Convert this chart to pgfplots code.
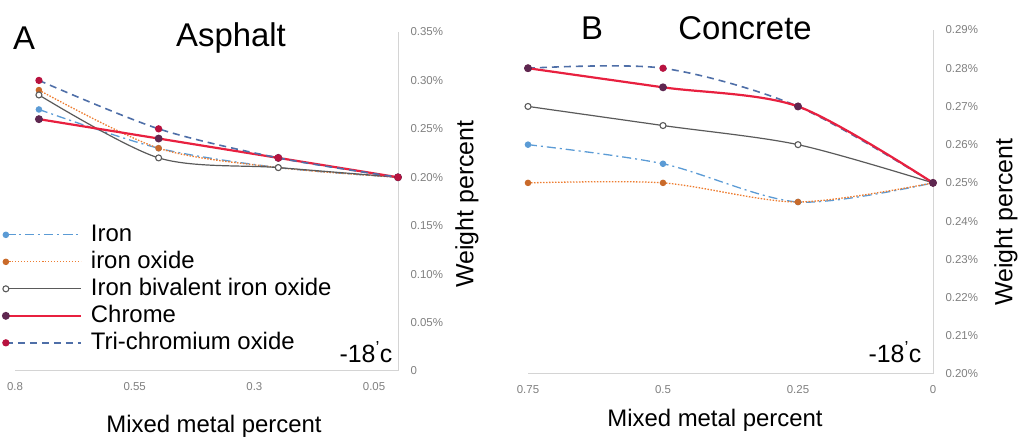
\documentclass[border=0pt]{standalone}
\usepackage{pgfplots}
\pgfplotsset{compat=1.18}
\usepackage{fontspec}
\setmainfont{Liberation Sans}

\definecolor{ironblue}{HTML}{5B9BD5}
\definecolor{oxorange}{HTML}{ED7D31}
\definecolor{bivgray}{HTML}{5A5A5A}
\definecolor{chromered}{HTML}{E8203F}
\definecolor{chromemark}{HTML}{5E2750}
\definecolor{tridash}{HTML}{4F6FA8}
\definecolor{trimark}{HTML}{B8123F}
\definecolor{axgray}{HTML}{D4D4D4}
\definecolor{tickgray}{HTML}{7F7F7F}

\pgfplotsset{
  panel/.style={
    scale only axis, clip=false,
    axis x line=bottom, axis y line=right,
    axis line style={axgray, line width=1bp, -},
    x dir=reverse, major tick length=0pt,
    tick label style={font=\fontsize{11.5}{13}\selectfont, text=tickgray},
    yticklabel style={xshift=9bp},
    xticklabel style={yshift=-8bp},
  },
  s iron/.style={ironblue, line width=1.3bp, dash pattern=on 9bp off 4bp on 2bp off 4bp, smooth,
    mark=*, mark size=2.6bp, mark options={solid, fill=ironblue, draw=ironblue}},
  s oxide/.style={oxorange, line width=1.3bp, dash pattern=on 1.5bp off 1.5bp, smooth,
    mark=*, mark size=2.6bp, mark options={solid, fill=oxorange!85!black, draw=oxorange!85!black}},
  s biv/.style={bivgray, line width=1.2bp, solid, smooth,
    mark=*, mark size=3bp, mark options={solid, fill=white, draw=bivgray, line width=1.1bp}},
  s chrome/.style={chromered, line width=2.2bp, solid, smooth,
    mark=*, mark size=2.8bp, mark options={solid, fill=chromemark, draw=chromemark}},
  s tri/.style={tridash, line width=1.6bp, dash pattern=on 7bp off 5bp, smooth,
    mark=*, mark size=2.8bp, mark options={solid, fill=trimark, draw=trimark}},
}

\begin{document}
\begin{tikzpicture}[x=1bp, y=1bp]
\useasboundingbox (0,0) rectangle (1020,439);

% ---- A: Asphalt ----
\begin{axis}[panel,
  at={(15bp,68bp)}, anchor=south west, width=383bp, height=339bp,
  xmin=0, xmax=0.8, ymin=0, ymax=0.35,
  xtick={0.8,0.55,0.3,0.05}, xticklabels={0.8,0.55,0.3,0.05},
  ytick={0,0.05,0.10,0.15,0.20,0.25,0.30,0.35},
  yticklabels={0,0.05\%,0.10\%,0.15\%,0.20\%,0.25\%,0.30\%,0.35\%},
  legend style={at={(-0.04,0.445)}, anchor=north west, draw=none, fill=none,
    font=\fontsize{24}{28}\selectfont, cells={anchor=west},
    nodes={inner sep=1bp, text height=18bp, text depth=5bp}, row sep=2bp,
    /tikz/every odd column/.append style={column sep=8bp}},
  legend image code/.code={\draw[#1, mark repeat=3, mark phase=1] plot coordinates {(0bp,0bp) (37bp,0bp) (75bp,0bp)};},
]
\addplot[s iron] coordinates {(0.75,0.27)(0.5,0.23)(0.25,0.21)(0,0.20)};
\addlegendentry{Iron}
\addplot[s oxide] coordinates {(0.75,0.29)(0.5,0.23)(0.25,0.21)(0,0.20)};
\addlegendentry{iron oxide}
\addplot[s biv] coordinates {(0.75,0.285)(0.5,0.22)(0.25,0.21)(0,0.20)};
\addlegendentry{Iron bivalent iron oxide}
\addplot[s chrome] coordinates {(0.75,0.26)(0.5,0.24)(0.25,0.22)(0,0.20)};
\addlegendentry{Chrome}
\addplot[s tri] coordinates {(0.75,0.30)(0.5,0.25)(0.25,0.22)(0,0.20)};
\addlegendentry{Tri-chromium oxide}
\end{axis}

% ---- B: Concrete ----
\begin{axis}[panel,
  at={(528bp,65bp)}, anchor=south west, width=405bp, height=344bp,
  xmin=0, xmax=0.75, ymin=0.20, ymax=0.29,
  xtick={0.75,0.5,0.25,0}, xticklabels={0.75,0.5,0.25,0},
  ytick={0.20,0.21,0.22,0.23,0.24,0.25,0.26,0.27,0.28,0.29},
  yticklabels={0.20\%,0.21\%,0.22\%,0.23\%,0.24\%,0.25\%,0.26\%,0.27\%,0.28\%,0.29\%},
]
\addplot[s iron] coordinates {(0.75,0.26)(0.5,0.255)(0.25,0.245)(0,0.25)};
\addplot[s oxide] coordinates {(0.75,0.25)(0.5,0.25)(0.25,0.245)(0,0.25)};
\addplot[s biv] coordinates {(0.75,0.27)(0.5,0.265)(0.25,0.26)(0,0.25)};
\addplot[s tri] coordinates {(0.75,0.28)(0.5,0.28)(0.25,0.27)(0,0.25)};
\addplot[s chrome] coordinates {(0.75,0.28)(0.5,0.275)(0.25,0.27)(0,0.25)};
\end{axis}

% ---- titles and labels ----
\node[font=\fontsize{33}{36}\selectfont] at (24,401) {A};
\node[font=\fontsize{33}{36}\selectfont] at (231,401) {Asphalt};
\node[font=\fontsize{33}{36}\selectfont] at (592,411) {B};
\node[font=\fontsize{33}{36}\selectfont] at (745,411) {Concrete};
\node[font=\fontsize{24}{28}\selectfont] at (214,13) {Mixed metal percent};
\node[font=\fontsize{24}{28}\selectfont] at (715,19) {Mixed metal percent};
\node[font=\fontsize{25}{28}\selectfont, rotate=90] at (467,235) {Weight percent};
\node[font=\fontsize{25}{28}\selectfont, rotate=90] at (1006,217) {Weight percent};
\node[font=\fontsize{25}{28}\selectfont] at (366,87) {-18\textsuperscript{'}c};
\node[font=\fontsize{25}{28}\selectfont] at (895,87) {-18\textsuperscript{'}c};
\end{tikzpicture}
\end{document}
